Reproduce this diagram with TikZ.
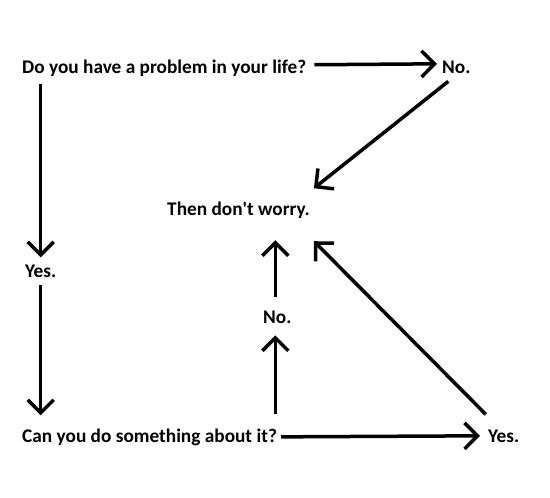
\documentclass[tikz,border=0pt]{standalone}
\usepackage{fontspec}
\setmainfont{Carlito}
\usetikzlibrary{calc,arrows.meta}

\begin{document}
\begin{tikzpicture}[x=1pt,y=-1pt,
  txt/.style={anchor=base west,inner sep=0pt,font=\fontsize{19.3}{22}\selectfont\bfseries},
  arr/.style={line width=3.5pt,-{Straight Barb[length=13pt,width=26pt,line width=3.5pt]}}]
\useasboundingbox (0,0) rectangle (550,498);
\node[txt] (Prob) at (22,73) {Do you have a problem in your life?};
\node[txt] (NoA) at (442,73) {No.};
\node[txt] (Worry) at (167,215) {Then don\textquotesingle t worry.};
\node[txt] (YesA) at (25,277) {Yes.};
\node[txt] (NoB) at (263,323) {No.};
\node[txt] (Can) at (22,442) {Can you do something about it?};
\node[txt] (YesB) at (488,442) {Yes.};
\draw[arr] ($(Prob.east)+(8,-3)$) -- ($(NoA.west)+(-5,-3)$);
\draw[arr] ($(NoA.south)+(-8,8)$) -- ($(Worry.north east)+(4,-13)$);
\draw[arr] ($(YesA.north |- Prob.south)+(0,8)$) -- ($(YesA.north)+(0,-7)$);
\draw[arr] ($(YesA.south)+(0,8)$) -- ($(YesA.south |- Can.north)+(0,-13)$);
\draw[arr] ($(Can.east)+(4,0)$) -- ($(YesB.west)+(-8,0)$);
\draw[arr] ($(NoB.south |- Can.north)+(-2,-14)$) -- ($(NoB.south)+(-2,12)$);
\draw[arr] ($(NoB.north)+(-2,-13)$) -- ($(NoB.north |- Worry.south)+(-2,22)$);
\draw[arr] ($(YesB.north)+(-18,-15)$) -- ($(Worry.south east)+(4,23)$);
\end{tikzpicture}
\end{document}
